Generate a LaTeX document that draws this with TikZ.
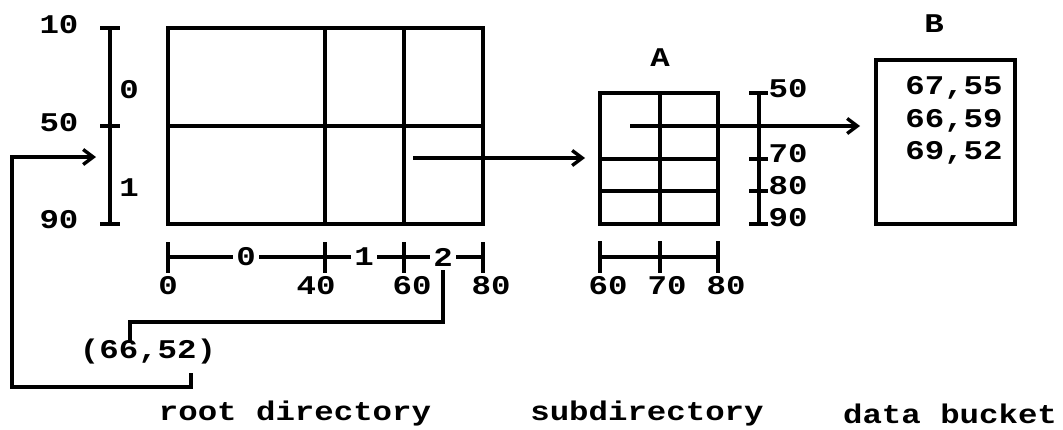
\documentclass[tikz,border=0pt]{standalone}
\usepackage{fontspec}
\setmainfont{Liberation Mono}[FakeStretch=1.2]
\usetikzlibrary{arrows.meta}

\tikzset{
  lbl/.style={font=\bfseries\fontsize{27}{30}\selectfont, inner sep=0pt},
  seg/.style={lbl, fill=white, inner xsep=3pt},
  ptr/.style={-{Straight Barb[length=10pt,width=15pt,line width=3.4pt]}},
}

\begin{document}
\begin{tikzpicture}[x=1pt,y=-1pt,line width=3.4pt]
\useasboundingbox (0,0) rectangle (1063,429);

      % root directory grid
      \draw (168,28) rectangle (483,224);
      \draw (325,28) -- (325,224);
      \draw (404,28) -- (404,224);
      \draw (168,126) -- (483,126);

      % y scale of the root
      \draw (110,28) -- (110,224);
      \draw (100,28) -- (120,28);
      \draw (100,126) -- (120,126);
      \draw (100,224) -- (120,224);
      \node[lbl] (y10) at (59,25) {10};
      \node[lbl] (y50) at (59,123) {50};
      \node[lbl] (y90) at (59,220) {90};
      \node[lbl] (r0) at (129,90) {0};
      \node[lbl] (r1) at (129,188) {1};

      % x scale of the root
      \draw (168,257) -- (483,257);
      \draw (168,242) -- (168,273);
      \draw (325,242) -- (325,273);
      \draw (404,242) -- (404,273);
      \draw (483,242) -- (483,273);
      \node[seg] (c0) at (246,257) {0};
      \node[seg] (c1) at (364,257) {1};
      \node[seg] (c2) at (443,257) {2};
      \node[lbl] (x0) at (168,286) {0};
      \node[lbl] (x40) at (316,286) {40};
      \node[lbl] (x60) at (412,286) {60};
      \node[lbl] (x80) at (491,286) {80};

      % subdirectory A
      \node[lbl] (A) at (660,58) {A};
      \draw (600,93) rectangle (718,224);
      \draw (660,93) -- (660,224);
      \draw (600,159) -- (718,159);
      \draw (600,191) -- (718,191);
      \draw (759,93) -- (759,224);
      \draw (749,93) -- (768,93);
      \draw (749,159) -- (768,159);
      \draw (749,191) -- (768,191);
      \draw (749,224) -- (768,224);
      \node[lbl,anchor=west] (a50) at (767,89) {50};
      \node[lbl,anchor=west] (a70) at (767,154) {70};
      \node[lbl,anchor=west] (a80) at (767,186) {80};
      \node[lbl,anchor=west] (a90) at (767,218) {90};
      \draw (600,257) -- (718,257);
      \draw (600,241) -- (600,273);
      \draw (660,241) -- (660,273);
      \draw (718,241) -- (718,273);
      \node[lbl] (a60x) at (608,286) {60};
      \node[lbl] (a70x) at (667,286) {70};
      \node[lbl] (a80x) at (726,286) {80};

      % data bucket B
      \node[lbl] (B) at (934,24) {B};
      \draw (876,60) rectangle (1015,224);
      \node[lbl] (k1) at (954,88) {67,55};
      \node[lbl] (k2) at (954,121) {66,59};
      \node[lbl] (k3) at (954,153) {69,52};

      % the search key and its two brackets
      \node[lbl] (key) at (148,352) {(66,52)};
      \coordinate (xhit) at (443,270);
      \coordinate (ktop) at (130,343);
      \coordinate (kbot) at (191,373);
      \coordinate (yhit) at (96,157);
      \draw (xhit) -- (443,322) -| (ktop);
      \draw[ptr] (kbot) -- (191,387) -| (12,157) -- (yhit);

      % pointers
      \coordinate (p1) at (413,158);
      \coordinate (p1e) at (585,158);
      \coordinate (p2) at (630,126);
      \coordinate (p2e) at (860,126);
      \draw[ptr] (p1) -- (p1e);
      \draw[ptr] (p2) -- (p2e);

      % captions
      \node[lbl] (cap1) at (295,414) {root directory};
      \node[lbl] (cap2) at (647,414) {subdirectory};
      \node[lbl] (cap3) at (950,414) {data bucket};
\end{tikzpicture}
\end{document}
